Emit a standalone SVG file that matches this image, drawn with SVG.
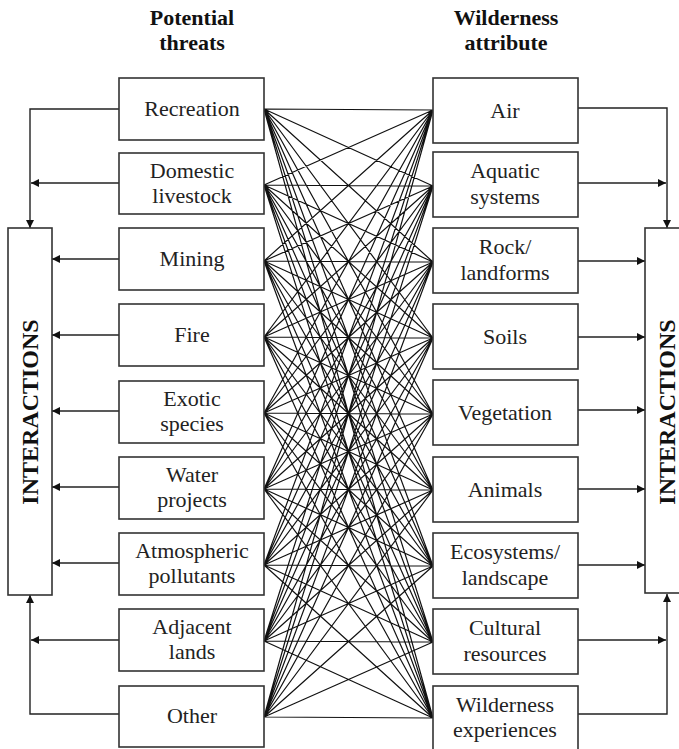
<svg xmlns="http://www.w3.org/2000/svg" width="679" height="749" viewBox="0 0 679 749">
<style>
.box{fill:#fff;stroke:#333;stroke-width:1.6}
.t{font-family:"Liberation Serif","Times New Roman",serif;font-size:22px;fill:#222;text-anchor:middle}
.h{font-family:"Liberation Serif","Times New Roman",serif;font-size:22px;font-weight:bold;fill:#111;text-anchor:middle}
.big{font-family:"Liberation Serif","Times New Roman",serif;font-size:24px;font-weight:bold;fill:#111;text-anchor:middle}
.c{fill:none;stroke:#111;stroke-width:1.2}
.w{fill:none;stroke:#222;stroke-width:1.4}
</style>
<defs>
<marker id="ah" viewBox="0 0 10 10" refX="10" refY="5" markerWidth="9" markerHeight="8" markerUnits="userSpaceOnUse" orient="auto">
<path d="M0,0 L10,5 L0,10 z" fill="#111"/>
</marker>
</defs>
<rect width="679" height="749" fill="#fff"/>
<g id="headers">
<text class="h" x="192" y="25">Potential</text>
<text class="h" x="192" y="50">threats</text>
<text class="h" x="506" y="25">Wilderness</text>
<text class="h" x="506" y="50">attribute</text>
</g>
<g id="connectors">
<g id="web">
<path class="c" d="M264,109L433,110M264,109L433,186M264,109L433,262M264,109L433,338M264,109L433,414M264,109L433,490M264,109L433,566M264,109L433,642M264,109L433,718
M264,185L433,110M264,185L433,186M264,185L433,262M264,185L433,338M264,185L433,414M264,185L433,490M264,185L433,566M264,185L433,642M264,185L433,718
M264,261L433,110M264,261L433,186M264,261L433,262M264,261L433,338M264,261L433,414M264,261L433,490M264,261L433,566M264,261L433,642M264,261L433,718
M264,337L433,110M264,337L433,186M264,337L433,262M264,337L433,338M264,337L433,414M264,337L433,490M264,337L433,566M264,337L433,642M264,337L433,718
M264,413L433,110M264,413L433,186M264,413L433,262M264,413L433,338M264,413L433,414M264,413L433,490M264,413L433,566M264,413L433,642M264,413L433,718
M264,489L433,110M264,489L433,186M264,489L433,262M264,489L433,338M264,489L433,414M264,489L433,490M264,489L433,566M264,489L433,642M264,489L433,718
M264,565L433,110M264,565L433,186M264,565L433,262M264,565L433,338M264,565L433,414M264,565L433,490M264,565L433,566M264,565L433,642M264,565L433,718
M264,641L433,110M264,641L433,186M264,641L433,262M264,641L433,338M264,641L433,414M264,641L433,490M264,641L433,566M264,641L433,642M264,641L433,718
M264,717L433,110M264,717L433,186M264,717L433,262M264,717L433,338M264,717L433,414M264,717L433,490M264,717L433,566M264,717L433,642M264,717L433,718"/>
</g>
<g id="left-arrows">
<path class="w" d="M119,109H30V228" marker-end="url(#ah)"/>
<path class="w" d="M119,183H31" marker-end="url(#ah)"/>
<path class="w" d="M119,259H52" marker-end="url(#ah)"/>
<path class="w" d="M119,335H52" marker-end="url(#ah)"/>
<path class="w" d="M119,411H52" marker-end="url(#ah)"/>
<path class="w" d="M119,487H52" marker-end="url(#ah)"/>
<path class="w" d="M119,563H52" marker-end="url(#ah)"/>
<path class="w" d="M119,640H31" marker-end="url(#ah)"/>
<path class="w" d="M119,714H30V595" marker-end="url(#ah)"/>
</g>
<g id="right-arrows">
<path class="w" d="M578,108H667V228" marker-end="url(#ah)"/>
<path class="w" d="M578,183H666" marker-end="url(#ah)"/>
<path class="w" d="M578,261H645" marker-end="url(#ah)"/>
<path class="w" d="M578,337H645" marker-end="url(#ah)"/>
<path class="w" d="M578,410H645" marker-end="url(#ah)"/>
<path class="w" d="M578,489H645" marker-end="url(#ah)"/>
<path class="w" d="M578,565H645" marker-end="url(#ah)"/>
<path class="w" d="M578,640H666" marker-end="url(#ah)"/>
<path class="w" d="M578,714H667V594" marker-end="url(#ah)"/>
</g>
</g>
<g id="interactions-left">
<rect class="box" x="8" y="228" width="44" height="367"/>
<text class="big" x="38" y="412" transform="rotate(-90 38 412)">INTERACTIONS</text>
</g>
<g id="interactions-right">
<rect class="box" x="645" y="228" width="44" height="365"/>
<text class="big" x="675" y="412" transform="rotate(-90 675 412)">INTERACTIONS</text>
</g>
<g id="recreation"><rect class="box" x="119" y="78" width="145" height="62"/><text class="t" x="192" y="116">Recreation</text></g>
<g id="livestock"><rect class="box" x="119" y="153" width="145" height="61"/><text class="t" x="192" y="178">Domestic</text><text class="t" x="192" y="203">livestock</text></g>
<g id="mining"><rect class="box" x="119" y="228" width="145" height="62"/><text class="t" x="192" y="266">Mining</text></g>
<g id="fire"><rect class="box" x="119" y="304" width="145" height="62"/><text class="t" x="192" y="342">Fire</text></g>
<g id="exotic"><rect class="box" x="119" y="381" width="145" height="62"/><text class="t" x="192" y="406">Exotic</text><text class="t" x="192" y="431">species</text></g>
<g id="water"><rect class="box" x="119" y="457" width="145" height="62"/><text class="t" x="192" y="482">Water</text><text class="t" x="192" y="507">projects</text></g>
<g id="atmospheric"><rect class="box" x="119" y="533" width="145" height="62"/><text class="t" x="192" y="558">Atmospheric</text><text class="t" x="192" y="583">pollutants</text></g>
<g id="adjacent"><rect class="box" x="119" y="609" width="145" height="62"/><text class="t" x="192" y="634">Adjacent</text><text class="t" x="192" y="659">lands</text></g>
<g id="other"><rect class="box" x="119" y="686" width="145" height="61"/><text class="t" x="192" y="723">Other</text></g>
<g id="air"><rect class="box" x="433" y="78" width="145" height="65"/><text class="t" x="505" y="118">Air</text></g>
<g id="aquatic"><rect class="box" x="433" y="152" width="145" height="65"/><text class="t" x="505" y="178">Aquatic</text><text class="t" x="505" y="204">systems</text></g>
<g id="rock"><rect class="box" x="433" y="228" width="145" height="65"/><text class="t" x="505" y="254">Rock/</text><text class="t" x="505" y="280">landforms</text></g>
<g id="soils"><rect class="box" x="433" y="304" width="145" height="65"/><text class="t" x="505" y="344">Soils</text></g>
<g id="vegetation"><rect class="box" x="433" y="380" width="145" height="65"/><text class="t" x="505" y="420">Vegetation</text></g>
<g id="animals"><rect class="box" x="433" y="457" width="145" height="65"/><text class="t" x="505" y="497">Animals</text></g>
<g id="ecosystems"><rect class="box" x="433" y="533" width="145" height="65"/><text class="t" x="505" y="559">Ecosystems/</text><text class="t" x="505" y="585">landscape</text></g>
<g id="cultural"><rect class="box" x="433" y="609" width="145" height="65"/><text class="t" x="505" y="635">Cultural</text><text class="t" x="505" y="661">resources</text></g>
<g id="wilderness"><rect class="box" x="433" y="686" width="145" height="64"/><text class="t" x="505" y="712">Wilderness</text><text class="t" x="505" y="737">experiences</text></g>
</svg>
